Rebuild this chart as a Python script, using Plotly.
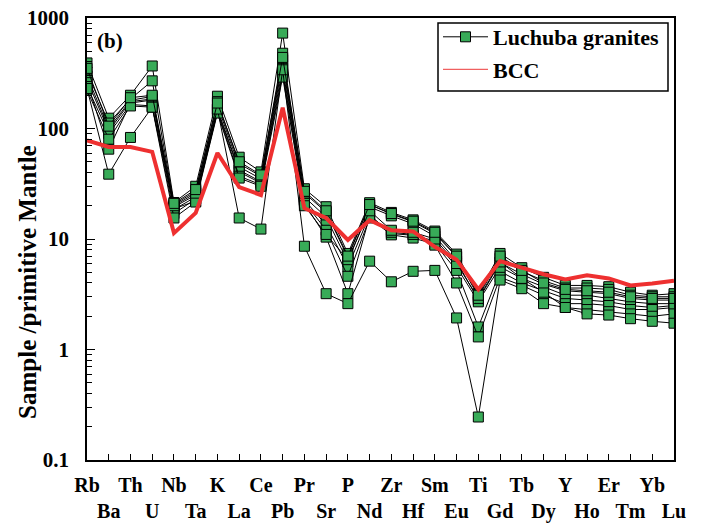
import plotly.graph_objects as go

elements = ["Rb", "Ba", "Th", "U", "Nb", "Ta", "K", "La", "Ce", "Pb", "Pr", "Sr", "P", "Nd",
            "Zr", "Hf", "Sm", "Eu", "Ti", "Gd", "Tb", "Dy", "Y", "Ho", "Er", "Tm", "Yb", "Lu"]

s1 = [392, 124, 200, 368, 21.4, 30, 196, 55, 40.5, 730, 28.5, 19.6, 7.4, 21.3, 17.4, 14.9, 11.8, 7.3, 3.2, 7.4, 5.5, 4.5, 3.8, 3.8, 3.7, 3.3, 3.1, 3.2]
s2 = [325, 112, 185, 270, 20.5, 27, 175, 48, 37, 480, 26, 17.5, 6.8, 20.5, 16.8, 14.3, 11.2, 6.9, 3.0, 6.7, 5.1, 4.2, 3.6, 3.6, 3.5, 3.1, 3.0, 3.0]
s3 = [300, 100, 180, 195, 19.5, 25, 162, 45, 35, 420, 24, 15.8, 6.2, 19.5, 16.2, 13.7, 10.6, 6.3, 2.8, 6.1, 4.8, 3.9, 3.4, 3.3, 3.2, 2.9, 2.8, 2.8]
s4 = [275, 95, 175, 185, 18.5, 24, 150, 42, 33, 390, 22.5, 13.4, 5.6, 16.5, 11.2, 10.8, 9.6, 5.6, 2.7, 5.6, 4.4, 3.7, 3.1, 3.1, 2.9, 2.7, 2.6, 2.6]
s5 = [260, 65, 170, 181, 18.8, 22, 145, 40.5, 32, 350, 21.7, 12, 4.6, 15.5, 10.9, 10.2, 9.0, 5.2, 1.6, 5.1, 4.0, 3.4, 2.9, 2.8, 2.7, 2.5, 2.4, 2.5]
s6 = [240, 90, 165, 160, 17, 23, 141, 37, 31, 320, 21, 10.4, 3.2, 16, 11.5, 11, 8.8, 4.0, 1.3, 4.5, 3.8, 3.1, 2.6, 2.6, 2.5, 2.3, 2.3, 2.4]
s7 = [223, 80, 160, 156, 15.5, 21.6, 138, 35.6, 30, 292, 20, 11, 6.5, 18, 12, 11.5, 10, 6.0, 2.9, 6.2, 4.4, 3.3, 2.4, 2.3, 2.2, 2.1, 2.0, 2.1]
s8 = [230, 38.6, 83, 156, 20, 26, 150, 15.5, 12.3, 340, 8.6, 3.2, 2.6, 6.3, 4.1, 5.1, 5.2, 1.93, 0.245, 4.25, 3.55, 2.6, 2.4, 2.1, 2.05, 1.9, 1.8, 1.73]
s9 = [350, 105, 190, 200, 21, 28, 170, 50, 38, 440, 27, 18, 7.0, 20.5, 17, 14.5, 11.5, 7.0, 3.1, 7.0, 5.2, 4.0, 3.5, 3.4, 3.3, 3.0, 2.9, 2.9]
samples = [s1, s2, s3, s4, s5, s6, s7, s8, s9]

bcc = [78, 68, 68, 61.5, 11.3, 17.2, 60, 29.5, 25, 154, 19, 15.5, 9.8, 14.8, 12, 11.7, 8.5, 6.5, 3.5, 6.3, 5.5, 4.8, 4.3, 4.7, 4.4, 3.8, 3.95, 4.2]

sample_name = "Luchuba granites"
bcc_name = "BCC"

FONT = "Liberation Serif, Times New Roman, serif"
GREEN = "#38AB58"
RED = "#EE3030"

xi = list(range(len(elements)))
ticktext = [e if i % 2 == 0 else "\u00a0<br>" + e for i, e in enumerate(elements)]

fig = go.Figure()

for k, s in enumerate(samples):
    fig.add_trace(go.Scatter(
        x=xi, y=s, mode="lines+markers", name=sample_name,
        legendgroup="samples", showlegend=(k == 0),
        line=dict(color="black", width=1),
        marker=dict(symbol="square", size=10, color=GREEN, line=dict(color="black", width=1)),
    ))

fig.add_trace(go.Scatter(
    x=xi, y=bcc, mode="lines", name=bcc_name, showlegend=False,
    line=dict(color=RED, width=4),
))
# legend-only entry for BCC (thin line, as in the reference legend)
fig.add_trace(go.Scatter(
    x=[None], y=[None], mode="lines", name=bcc_name, legendgroup="bcc",
    line=dict(color="#F06060", width=1.2),
))

minor_vals = [k * 10 ** e for e in range(-1, 3) for k in range(2, 10)]

# legend frame in paper coordinates (plot area: x 87..674 px, y 18..460 px)
def px_x(p):
    return (p - 87) / 587.0

def px_y(p):
    return (460 - p) / 442.0

fig.update_layout(
    width=708, height=531,
    margin=dict(l=87, r=34, t=18, b=71, autoexpand=False),
    paper_bgcolor="white", plot_bgcolor="white",
    font=dict(family=FONT, size=20, color="black", weight="bold"),
    showlegend=True,
    legend=dict(
        x=px_x(438), y=px_y(16), xanchor="left", yanchor="top",
        borderwidth=0, bgcolor="rgba(0,0,0,0)",
        font=dict(family=FONT, size=22, color="black", weight="bold"),
        itemwidth=45, tracegroupgap=1,
    ),
    shapes=[
        dict(type="rect", xref="paper", yref="paper",
             x0=px_x(438), x1=px_x(668), y0=px_y(91), y1=px_y(23),
             line=dict(color="black", width=1.5), fillcolor="rgba(0,0,0,0)", layer="above"),
    ],
    xaxis=dict(
        range=[0, 27], tickmode="array", tickvals=xi, ticktext=ticktext,
        ticks="inside", ticklen=6, tickwidth=1, tickcolor="black",
        showline=True, linecolor="black", linewidth=1.5, mirror=True,
        showgrid=False, zeroline=False, automargin=False,
        tickfont=dict(family=FONT, size=20, color="black", weight="bold"),
        tickangle=0, ticklabelstandoff=6,
    ),
    yaxis=dict(
        type="log", range=[-1, 3],
        tickmode="array", tickvals=[0.1, 1, 10, 100, 1000],
        ticktext=["0.1", "1", "10", "100", "1000"],
        ticks="inside", ticklen=8, tickwidth=1, tickcolor="black",
        minor=dict(ticks="inside", ticklen=5, tickwidth=1, tickcolor="black",
                   tickvals=minor_vals, showgrid=False),
        showline=True, linecolor="black", linewidth=1.5, mirror=True,
        showgrid=False, zeroline=False, automargin=False,
        tickfont=dict(family=FONT, size=21, color="black", weight="bold"),
        ticklabelstandoff=12,
    ),
    annotations=[
        dict(text="Sample /primitive Mantle", textangle=-90, xref="paper", yref="paper",
             x=-0.1005, y=0.403, xanchor="center", yanchor="middle", showarrow=False,
             font=dict(family=FONT, size=25, color="black", weight="bold")),
        dict(text="(b)", xref="paper", yref="paper", x=0.013, y=0.948,
             xanchor="left", yanchor="middle", showarrow=False,
             font=dict(family=FONT, size=21, color="black", weight="bold")),
    ],
)

fig.write_html("out.html")
